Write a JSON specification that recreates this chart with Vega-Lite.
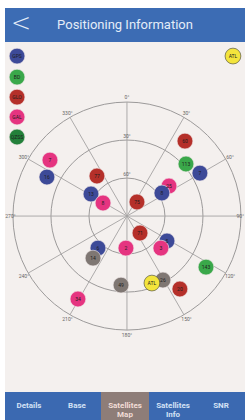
{
  "$schema": "https://vega.github.io/schema/vega-lite/v6.json",
  "background": "#ffffff",
  "padding": {"left": 5, "top": 8, "right": 0, "bottom": 0},
  "spacing": 0,
  "config": {"view": {"stroke": null}, "font": "Roboto"},
  "datasets": {
    "rings": [
      {"east": 0, "north": 0, "zd": 90},
      {"east": 0, "north": 0, "zd": 60},
      {"east": 0, "north": 0, "zd": 30}
    ],
    "spokes": [
      {"east": 0, "north": 90, "east2": 0, "north2": -90},
      {"east": 45, "north": 77.94, "east2": -45, "north2": -77.94},
      {"east": 77.94, "north": 45, "east2": -77.94, "north2": -45},
      {"east": 90, "north": 0, "east2": -90, "north2": 0},
      {"east": 77.94, "north": -45, "east2": -77.94, "north2": 45},
      {"east": 45, "north": -77.94, "east2": -45, "north2": 77.94}
    ],
    "azlabels": [
      {"east": 0, "north": 94, "label": "0°"},
      {"east": 47, "north": 81.4, "label": "30°"},
      {"east": 81.4, "north": 47, "label": "60°"},
      {"east": 89.5, "north": 0, "label": "90°"},
      {"east": 81.4, "north": -47, "label": "120°"},
      {"east": 47, "north": -81.4, "label": "150°"},
      {"east": 0, "north": -94, "label": "180°"},
      {"east": -47, "north": -81.4, "label": "210°"},
      {"east": -81.4, "north": -47, "label": "240°"},
      {"east": -92, "north": 0, "label": "270°"},
      {"east": -81.4, "north": 47, "label": "300°"},
      {"east": -47, "north": 81.4, "label": "330°"}
    ],
    "elevlabels": [
      {"east": 0, "north": 60, "label": "30°"},
      {"east": 0, "north": 30, "label": "60°"}
    ],
    "dots": [
      {"system": "GPS", "label": "GPS", "east": -86.8, "north": 126.3},
      {"system": "BD", "label": "BD", "east": -86.8, "north": 109.7},
      {"system": "GLO", "label": "GLO", "east": -86.8, "north": 93.9},
      {"system": "GAL", "label": "GAL", "east": -86.8, "north": 78.2},
      {"system": "QZSS", "label": "QZSS", "east": -86.8, "north": 62.4},
      {"system": "ATL", "label": "ATL", "east": 83.7, "north": 126.3},
      {"system": "GLO", "label": "60", "east": 45.8, "north": 59.2},
      {"system": "BD", "label": "113", "east": 46.6, "north": 41.1},
      {"system": "GPS", "label": "7", "east": 57.6, "north": 33.9},
      {"system": "GAL", "label": "7", "east": -60.8, "north": 44.2},
      {"system": "GPS", "label": "16", "east": -63.2, "north": 30.8},
      {"system": "GLO", "label": "77", "east": -23.7, "north": 31.6},
      {"system": "GPS", "label": "13", "east": -28.4, "north": 17.4},
      {"system": "GAL", "label": "25", "east": 33.2, "north": 23.7},
      {"system": "GPS", "label": "8", "east": 27.6, "north": 18.2},
      {"system": "GAL", "label": "8", "east": -18.9, "north": 10.3},
      {"system": "GLO", "label": "75", "east": 7.9, "north": 11.1},
      {"system": "GLO", "label": "71", "east": 10.3, "north": -13.4},
      {"system": "GPS", "label": "5", "east": 31.6, "north": -19.7},
      {"system": "GAL", "label": "3", "east": 26.8, "north": -25.3},
      {"system": "GAL", "label": "2", "east": -0.8, "north": -25.3},
      {"system": "GPS", "label": "6", "east": -22.9, "north": -25.3},
      {"system": "Other", "label": "14", "east": -26.8, "north": -33.2},
      {"system": "BD", "label": "143", "east": 62.4, "north": -40.3},
      {"system": "Other", "label": "49", "east": -4.7, "north": -54.5},
      {"system": "Other", "label": "26", "east": 28.4, "north": -50.5},
      {"system": "ATL", "label": "ATL", "east": 19.7, "north": -52.9},
      {"system": "GLO", "label": "20", "east": 41.8, "north": -57.6},
      {"system": "GAL", "label": "34", "east": -38.7, "north": -65.5}
    ],
    "tabs": [
      {"tab": "Details", "sel": false},
      {"tab": "Base", "sel": false},
      {"tab": "Satellites\nMap", "sel": true},
      {"tab": "Satellites\nInfo", "sel": false},
      {"tab": "SNR", "sel": false}
    ]
  },
  "vconcat": [
    {
      "width": 240,
      "height": 34,
      "view": {"fill": "#3c6cb4", "stroke": null},
      "data": {"values": [{"t": "Positioning Information", "b": "<"}]},
      "layer": [
        {
          "mark": {"type": "text", "fontSize": 13, "color": "#e4ecf8", "font": "Roboto"},
          "encoding": {"text": {"field": "t"}}
        },
        {
          "mark": {"type": "text", "fontSize": 24, "color": "#e4ecf8", "font": "DejaVu Sans", "fontWeight": 200, "dx": -104, "dy": -1},
          "encoding": {"text": {"field": "b"}}
        }
      ]
    },
    {
      "width": 240,
      "height": 350,
      "view": {"fill": "#f4f0ee", "stroke": null},
      "encoding": {
        "x": {"field": "east", "type": "quantitative", "axis": null, "scale": {"domain": [-96.3, 93.2], "nice": false, "zero": false}},
        "y": {"field": "north", "type": "quantitative", "axis": null, "scale": {"domain": [-138.9, 137.4], "nice": false, "zero": false}}
      },
      "layer": [
        {
          "data": {"name": "rings"},
          "mark": {"type": "point", "shape": "circle", "filled": false, "stroke": "#9c9a9a", "strokeWidth": 1, "opacity": 1},
          "encoding": {
            "size": {"field": "zd", "type": "quantitative", "legend": null, "scale": {"type": "pow", "exponent": 2, "domain": [0, 90], "range": [0, 51984]}}
          }
        },
        {
          "data": {"name": "spokes"},
          "mark": {"type": "rule", "stroke": "#a5a3a3", "strokeWidth": 0.9},
          "encoding": {
            "x2": {"field": "east2"},
            "y2": {"field": "north2"}
          }
        },
        {
          "data": {"name": "azlabels"},
          "mark": {"type": "text", "fontSize": 5, "color": "#666666"},
          "encoding": {"text": {"field": "label"}}
        },
        {
          "data": {"name": "elevlabels"},
          "mark": {"type": "text", "fontSize": 5, "color": "#666666", "dy": -4},
          "encoding": {"text": {"field": "label"}}
        },
        {
          "data": {"name": "dots"},
          "mark": {"type": "point", "shape": "circle", "filled": true, "opacity": 1, "size": 250, "strokeWidth": 0.8},
          "encoding": {
            "color": {"field": "system", "type": "nominal", "legend": null,
              "scale": {"domain": ["GPS", "BD", "GLO", "GAL", "QZSS", "ATL", "Other"],
                        "range": ["#3d4a98", "#3aa84a", "#b5302a", "#e53480", "#23803a", "#f3e43c", "#7f7773"]}},
            "stroke": {"condition": {"test": "datum.system === 'ATL'", "value": "#4a4a3a"}, "value": "#f0e8e8"},
            "strokeOpacity": {"value": 0.8}
          }
        },
        {
          "data": {"name": "dots"},
          "mark": {"type": "text", "fontSize": 5, "color": "#1e1e1e"},
          "encoding": {"text": {"field": "label"}}
        }
      ]
    },
    {
      "width": 240,
      "height": 28,
      "view": {"fill": "#3b69b1", "stroke": null},
      "data": {"name": "tabs"},
      "encoding": {
        "x": {"field": "tab", "type": "nominal", "axis": null,
          "scale": {"domain": ["Details", "Base", "Satellites\nMap", "Satellites\nInfo", "SNR"], "paddingInner": 0, "paddingOuter": 0}}
      },
      "layer": [
        {
          "transform": [{"filter": "datum.sel"}],
          "mark": {"type": "rect", "color": "#8e7d78"}
        },
        {
          "mark": {"type": "text", "fontSize": 8, "fontWeight": "bold", "lineBreak": "\n", "lineHeight": 9},
          "encoding": {
            "text": {"field": "tab"},
            "color": {"condition": {"test": "datum.sel", "value": "#f1dcd6"}, "value": "#d3e1f5"}
          }
        }
      ]
    }
  ]
}
